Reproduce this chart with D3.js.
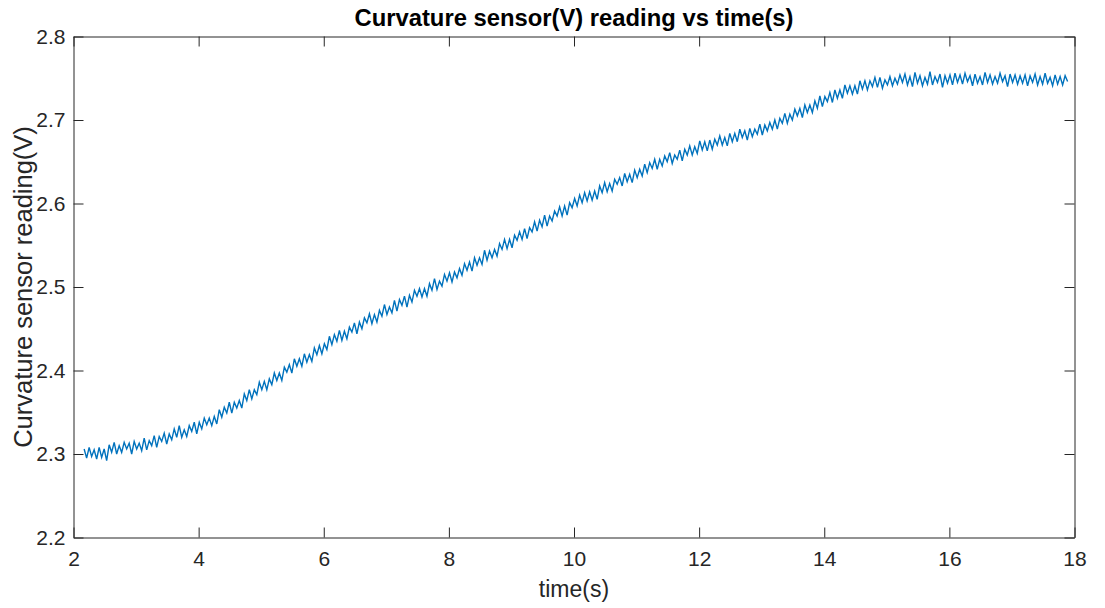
<!DOCTYPE html>
<html>
<head>
<meta charset="utf-8">
<script src="https://cdn.jsdelivr.net/npm/d3@7"></script>
<style>
  body { margin: 0; background: #fff; }
  text { font-family: "Liberation Sans", Arial, sans-serif; fill: #262626; }
</style>
</head>
<body>
<div id="chart"></div>
<script>
// sensor sampled every 0.04 s starting at 2.17 s
const sampleStart = 2.17;
const sampleStep = 0.04;

// curvature sensor reading (V), one row per second
const readings = [
  2.306, 2.295, 2.308, 2.297, 2.305, 2.294, 2.308, 2.296, 2.306, 2.292, 2.311, 2.302, 2.314, 2.300, 2.310, 2.302, 2.314, 2.306, 2.313, 2.300, 2.315, 2.306, 2.313, 2.304, 2.319,
  2.305, 2.316, 2.310, 2.322, 2.308, 2.321, 2.315, 2.325, 2.312, 2.324, 2.317, 2.330, 2.320, 2.334, 2.320, 2.329, 2.321, 2.334, 2.327, 2.338, 2.324, 2.338, 2.330, 2.343, 2.335,
  2.343, 2.334, 2.345, 2.336, 2.353, 2.344, 2.356, 2.349, 2.362, 2.349, 2.362, 2.355, 2.364, 2.355, 2.372, 2.364, 2.377, 2.366, 2.377, 2.371, 2.386, 2.377, 2.387, 2.377, 2.390,
  2.383, 2.397, 2.388, 2.397, 2.388, 2.404, 2.398, 2.407, 2.397, 2.414, 2.405, 2.414, 2.405, 2.420, 2.410, 2.419, 2.411, 2.427, 2.419, 2.430, 2.420, 2.432, 2.425, 2.441, 2.431,
  2.443, 2.435, 2.448, 2.436, 2.447, 2.438, 2.452, 2.446, 2.457, 2.444, 2.458, 2.450, 2.463, 2.457, 2.468, 2.456, 2.467, 2.458, 2.472, 2.465, 2.479, 2.467, 2.476, 2.469, 2.484,
  2.471, 2.485, 2.478, 2.489, 2.476, 2.490, 2.482, 2.496, 2.489, 2.498, 2.488, 2.498, 2.489, 2.504, 2.496, 2.510, 2.497, 2.507, 2.501, 2.515, 2.507, 2.517, 2.506, 2.518, 2.511,
  2.522, 2.514, 2.528, 2.520, 2.530, 2.519, 2.535, 2.526, 2.535, 2.527, 2.544, 2.532, 2.543, 2.535, 2.545, 2.537, 2.552, 2.545, 2.557, 2.546, 2.557, 2.547, 2.562, 2.556, 2.566,
  2.557, 2.570, 2.558, 2.571, 2.566, 2.578, 2.567, 2.580, 2.572, 2.586, 2.573, 2.585, 2.579, 2.591, 2.585, 2.596, 2.585, 2.597, 2.586, 2.601, 2.595, 2.606, 2.597, 2.610, 2.601,
  2.613, 2.603, 2.614, 2.604, 2.615, 2.605, 2.621, 2.613, 2.625, 2.614, 2.624, 2.615, 2.629, 2.623, 2.631, 2.621, 2.636, 2.626, 2.635, 2.625, 2.640, 2.631, 2.641, 2.633, 2.647,
  2.637, 2.649, 2.642, 2.653, 2.641, 2.653, 2.645, 2.657, 2.650, 2.661, 2.648, 2.658, 2.653, 2.664, 2.651, 2.665, 2.658, 2.669, 2.658, 2.668, 2.660, 2.675, 2.664, 2.674, 2.663,
  2.676, 2.665, 2.677, 2.670, 2.681, 2.670, 2.679, 2.669, 2.684, 2.674, 2.684, 2.674, 2.689, 2.679, 2.687, 2.676, 2.690, 2.680, 2.689, 2.683, 2.695, 2.682, 2.694, 2.687, 2.697,
  2.689, 2.700, 2.689, 2.702, 2.696, 2.708, 2.696, 2.707, 2.700, 2.713, 2.705, 2.714, 2.703, 2.718, 2.709, 2.718, 2.709, 2.723, 2.714, 2.729, 2.716, 2.728, 2.722, 2.733, 2.721,
  2.736, 2.726, 2.736, 2.726, 2.742, 2.732, 2.741, 2.731, 2.741, 2.731, 2.747, 2.737, 2.747, 2.736, 2.747, 2.740, 2.751, 2.739, 2.751, 2.738, 2.748, 2.742, 2.752, 2.741, 2.750,
  2.743, 2.754, 2.745, 2.755, 2.742, 2.752, 2.740, 2.757, 2.744, 2.753, 2.741, 2.751, 2.743, 2.758, 2.742, 2.752, 2.745, 2.755, 2.739, 2.753, 2.744, 2.754, 2.742, 2.756, 2.745,
  2.754, 2.743, 2.756, 2.746, 2.753, 2.741, 2.755, 2.744, 2.752, 2.742, 2.757, 2.745, 2.754, 2.743, 2.752, 2.744, 2.756, 2.746, 2.753, 2.740, 2.755, 2.745, 2.754, 2.743, 2.753,
  2.744, 2.754, 2.741, 2.753, 2.745, 2.755, 2.742, 2.752, 2.743, 2.756, 2.744, 2.751, 2.741, 2.754, 2.743, 2.752, 2.742, 2.753, 2.746
];

const xTicks = [2, 4, 6, 8, 10, 12, 14, 16, 18];
const yTicks = [2.2, 2.3, 2.4, 2.5, 2.6, 2.7, 2.8];

const width = 1105, height = 608;
const margin = {top: 36.5, right: 30.5, bottom: 70.5, left: 73.5};

const svg = d3.select("#chart")
    .append("svg")
    .attr("width", width)
    .attr("height", height);

const x = d3.scaleLinear()
    .domain([2, 18])
    .range([margin.left, width - margin.right]);

const y = d3.scaleLinear()
    .domain([2.2, 2.8])
    .range([height - margin.bottom, margin.top]);

const points = readings.map((v, i) => [sampleStart + i * sampleStep, v]);

// the trace
svg.append("path")
    .datum(points)
    .attr("fill", "none")
    .attr("stroke", "#0072BD")
    .attr("stroke-width", 1.4)
    .attr("d", d3.line().x(d => x(d[0])).y(d => y(d[1])));

// axes, ticks pointing inward like matlab
const axisColor = "#262626";
const tickLen = 10;

const bottomAxis = svg.append("g")
    .attr("transform", `translate(0,${height - margin.bottom})`)
    .call(d3.axisBottom(x).tickValues(xTicks).tickFormat(d3.format("d")).tickSizeInner(-tickLen).tickSizeOuter(0).tickPadding(14));

const topAxis = svg.append("g")
    .attr("transform", `translate(0,${margin.top})`)
    .call(d3.axisTop(x).tickValues(xTicks).tickFormat("").tickSizeInner(-tickLen).tickSizeOuter(0));

const leftAxis = svg.append("g")
    .attr("transform", `translate(${margin.left},0)`)
    .call(d3.axisLeft(y).tickValues(yTicks).tickFormat(d3.format(".1f")).tickSizeInner(-tickLen).tickSizeOuter(0).tickPadding(8));

const rightAxis = svg.append("g")
    .attr("transform", `translate(${width - margin.right},0)`)
    .call(d3.axisRight(y).tickValues(yTicks).tickFormat("").tickSizeInner(-tickLen).tickSizeOuter(0));

[bottomAxis, topAxis, leftAxis, rightAxis].forEach(g => {
    g.select(".domain").attr("stroke", axisColor).attr("stroke-width", 1);
    g.selectAll(".tick line").attr("stroke", axisColor);
    g.selectAll(".tick text")
        .style("font-family", '"Liberation Sans", Arial, sans-serif')
        .style("font-size", "21px")
        .attr("fill", axisColor);
});

// title
svg.append("text")
    .attr("x", (margin.left + width - margin.right) / 2)
    .attr("y", 26)
    .attr("text-anchor", "middle")
    .style("font-size", "23.8px")
    .style("font-weight", "bold")
    .style("fill", "#000")
    .text("Curvature sensor(V) reading vs time(s)");

// axis labels
svg.append("text")
    .attr("x", (margin.left + width - margin.right) / 2)
    .attr("y", 597)
    .attr("text-anchor", "middle")
    .style("font-size", "23px")
    .text("time(s)");

svg.append("text")
    .attr("transform", `translate(32,${(margin.top + height - margin.bottom) / 2}) rotate(-90)`)
    .attr("text-anchor", "middle")
    .style("font-size", "25.5px")
    .text("Curvature sensor reading(V)");
</script>
</body>
</html>
